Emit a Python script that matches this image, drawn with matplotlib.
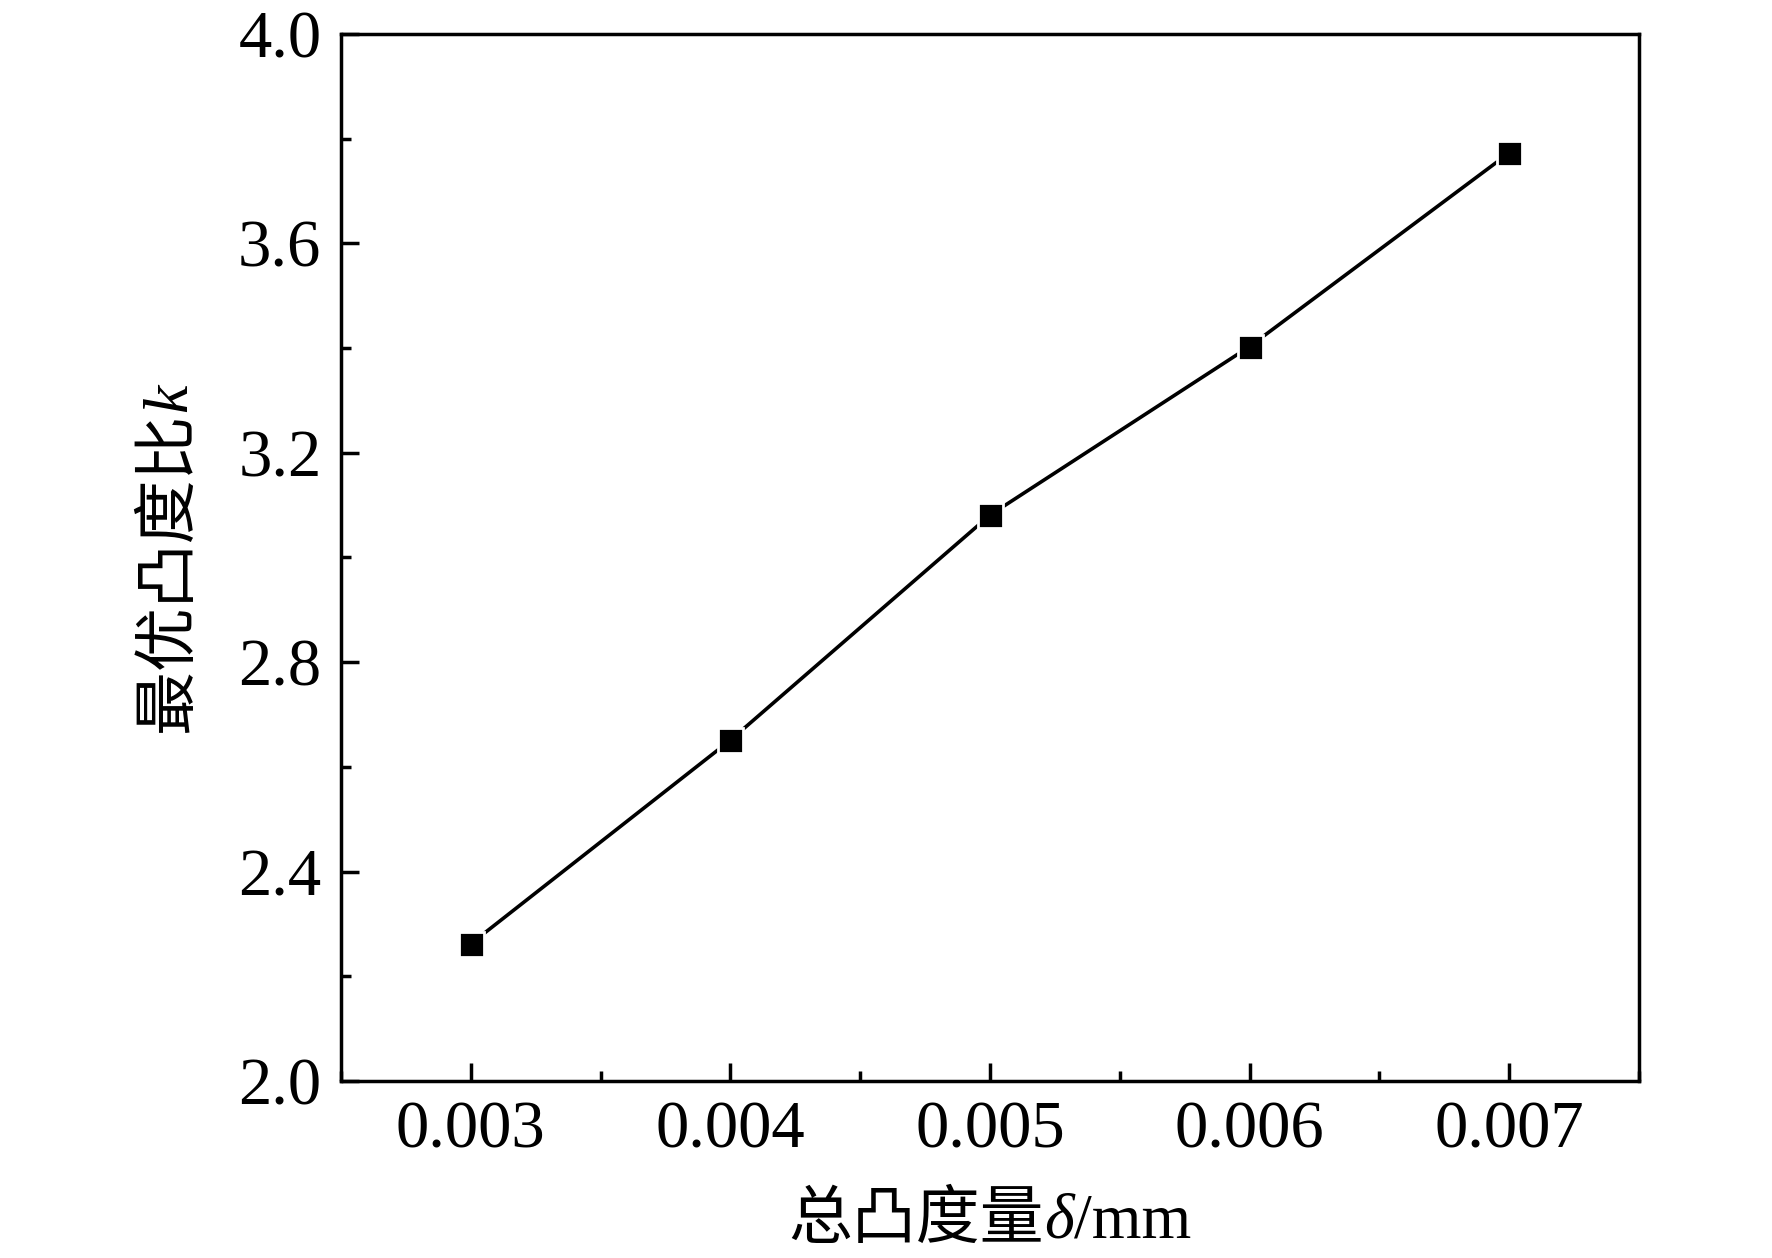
import numpy as np
import matplotlib
matplotlib.use('Agg')
import matplotlib.pyplot as plt
from matplotlib.ticker import MultipleLocator

# data
crown_total = [0.003, 0.004, 0.005, 0.006, 0.007]
crown_ratio = [2.262, 2.651, 3.081, 3.403, 3.773]
x_ticks = [0.003, 0.004, 0.005, 0.006, 0.007]
y_ticks = [2.0, 2.4, 2.8, 3.2, 3.6, 4.0]

serif = 'Liberation Serif'
cjk = 'Noto Sans CJK SC'
plt.rcParams['font.family'] = [serif, cjk]

fig = plt.figure(figsize=(17.72, 12.58), dpi=100)
ax = fig.add_axes([0.1924, 0.1407, 0.925 - 0.1924, 0.973 - 0.1407])

ax.plot(crown_total, crown_ratio, color='black', linewidth=2.6,
        marker='s', markersize=18, markerfacecolor='black',
        markeredgecolor='white', markeredgewidth=2)

ax.set_xlim(0.0025, 0.0075)
ax.set_ylim(2.0, 4.0)
ax.set_xticks(x_ticks)
ax.set_xticklabels([f'{v:.3f}' for v in x_ticks])
ax.set_yticks(y_ticks)
ax.set_yticklabels([f'{v:.1f}' for v in y_ticks])
ax.xaxis.set_minor_locator(MultipleLocator(0.0005))
ax.yaxis.set_minor_locator(MultipleLocator(0.2))

for side in ['left', 'right', 'top', 'bottom']:
    ax.spines[side].set_linewidth(2.5)
ax.tick_params(which='both', direction='in', top=False, right=False, width=2.5)
ax.tick_params(which='major', length=13, labelsize=48, pad=14)
ax.tick_params(which='minor', length=7)
for lab in ax.get_xticklabels() + ax.get_yticklabels():
    lab.set_fontfamily(serif)

fig.canvas.draw()
renderer = fig.canvas.get_renderer()


def place_pieces(pieces, cx, cy, rotated=False, size=46):
    # lay out text pieces with mixed fonts, centred on (cx, cy) in pixels
    texts = []
    lengths = []
    for s, fam, style in pieces:
        t = fig.text(0, 0, s, fontsize=size, family=fam, style=style,
                     rotation=90 if rotated else 0, rotation_mode='anchor',
                     ha='left', va='baseline', transform=None)
        bb = t.get_window_extent(renderer)
        texts.append(t)
        lengths.append(bb.height if rotated else bb.width)
    total = sum(lengths)
    pos = (cy if rotated else cx) - total / 2
    for t, ln in zip(texts, lengths):
        if rotated:
            t.set_position((cx, pos))
        else:
            t.set_position((pos, cy))
        pos += ln


W, H = 1772, 1258
place_pieces([('总凸度量', cjk, 'normal'), ('δ', serif, 'italic'), ('/mm', serif, 'normal')],
             990, H - 1238)
place_pieces([('最优凸度比', cjk, 'normal'), ('k', serif, 'italic')],
             186, H - 1258 + 700, rotated=True)

fig.savefig('out.png', dpi=100)
